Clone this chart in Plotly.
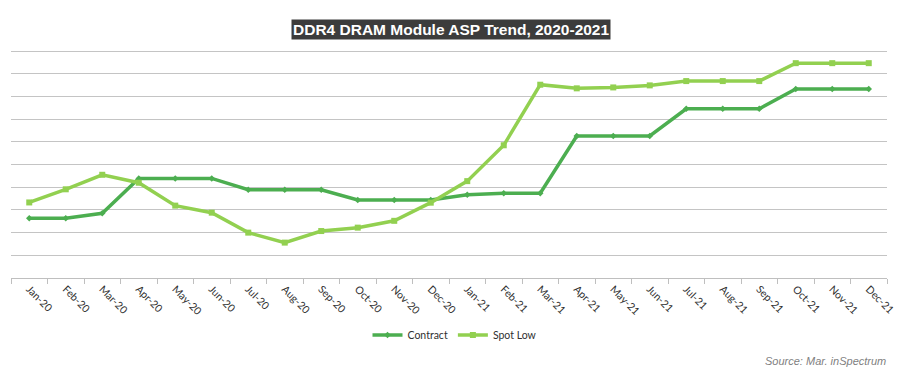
import plotly.graph_objects as go

months = ["Jan-20","Feb-20","Mar-20","Apr-20","May-20","Jun-20","Jul-20","Aug-20","Sep-20","Oct-20","Nov-20","Dec-20",
          "Jan-21","Feb-21","Mar-21","Apr-21","May-21","Jun-21","Jul-21","Aug-21","Sep-21","Oct-21","Nov-21","Dec-21"]
contract = [2.63,2.63,2.85,4.39,4.39,4.39,3.89,3.89,3.89,3.44,3.44,3.44,
            3.67,3.74,3.74,6.26,6.26,6.26,7.46,7.46,7.46,8.33,8.33,8.33]
spot_low = [3.33,3.91,4.55,4.20,3.19,2.88,2.00,1.56,2.07,2.22,2.52,3.32,
            4.27,5.85,8.52,8.36,8.40,8.49,8.68,8.68,8.68,9.47,9.47,9.47]

L, R, T, B = 11, 16, 50, 108
W, H = 903, 386
plot_w = W - L - R
plot_h = H - T - B

def py(ypix):
    return (H - B - ypix) / plot_h

def px(xpix):
    return (xpix - L) / plot_w

fig = go.Figure()
fig.add_trace(go.Scatter(x=months, y=contract, name="Contract", mode="lines+markers",
                         line=dict(color="#4cae50", width=3.5),
                         marker=dict(symbol="diamond", size=5, color="#4cae50")))
fig.add_trace(go.Scatter(x=months, y=spot_low, name="Spot Low", mode="lines+markers",
                         line=dict(color="#92d050", width=3.5),
                         marker=dict(symbol="square", size=6, color="#92d050")))

fig.update_layout(
    width=W, height=H,
    margin=dict(l=L, r=R, t=T, b=B, autoexpand=False),
    plot_bgcolor="white", paper_bgcolor="white",
    showlegend=True,
    legend=dict(orientation="h", x=px(455), xanchor="center", y=py(335), yanchor="middle",
                font=dict(family="Lato, Open Sans, sans-serif", size=10.5, color="#303030"),
                itemwidth=30),
    xaxis=dict(type="category", tickangle=45, tickson="boundaries", ticks="outside",
               ticklen=5, tickcolor="#bfbfbf", showline=True, linecolor="#bfbfbf", linewidth=1,
               showgrid=False, automargin=False,
               tickfont=dict(family="Lato, Open Sans, sans-serif", size=10.5, color="#303030"),
               range=[-0.5, 23.5]),
    yaxis=dict(range=[0, 10.05], dtick=1, showticklabels=False, showgrid=True, automargin=False,
               gridcolor="#c4c4c4", gridwidth=1, zeroline=False, showline=False, fixedrange=True),
    annotations=[
        dict(text="<b>DDR4 DRAM Module ASP Trend, 2020-2021</b>", x=px(451), xref="paper",
             y=py(29.5), yref="paper", yanchor="middle", showarrow=False,
             font=dict(family="Arial, Liberation Sans, sans-serif", size=15.5, color="white"),
             bgcolor="#3c3c3c", borderpad=1),
        dict(text="<i>Source: Mar. inSpectrum</i>", x=px(888), xref="paper", y=py(361), yref="paper",
             xanchor="right", yanchor="middle", showarrow=False,
             font=dict(family="Arial, Liberation Sans, sans-serif", size=11, color="#7f7f7f")),
    ],
)

fig.write_html("out.html", config={"displayModeBar": False},
               post_script="document.body.style.margin='0';document.body.style.overflow='hidden';")
